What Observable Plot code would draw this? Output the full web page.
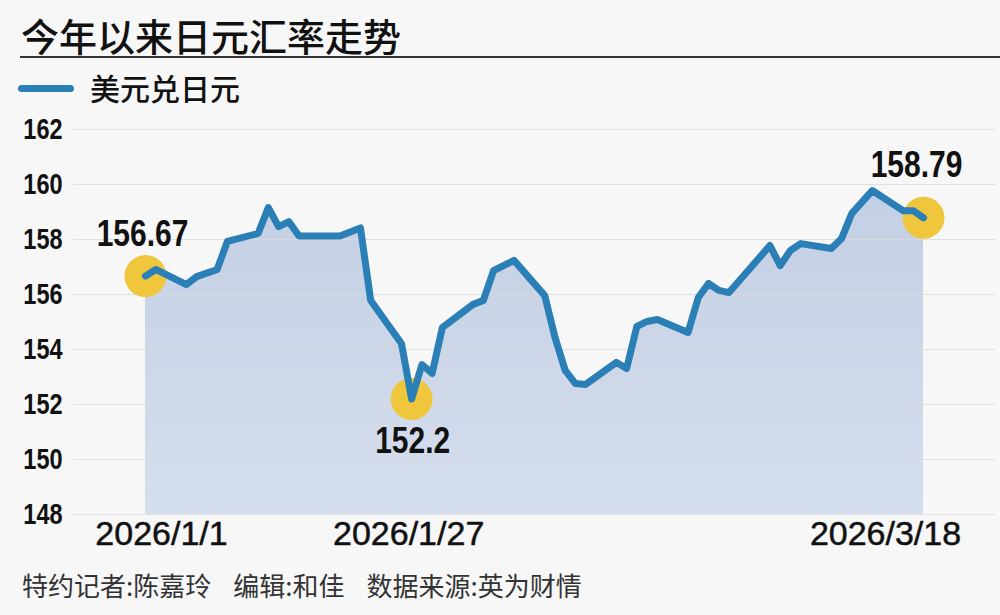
<!DOCTYPE html>
<html>
<head>
<meta charset="utf-8">
<script src="https://cdn.jsdelivr.net/npm/d3@7"></script>
<script src="https://cdn.jsdelivr.net/npm/@observablehq/plot@0.6"></script>
<style>
  html, body { margin: 0; padding: 0; }
  body { width: 1000px; height: 615px; overflow: hidden; position: relative; background: #f7f7f7;
         font-family: "Noto Sans CJK SC", "Noto Sans", sans-serif; }
  #title { position: absolute; left: 21px; top: 16px; font-size: 38px; line-height: 1; font-weight: 500; color: #111; white-space: nowrap; }
  #rule { position: absolute; left: 20px; right: 0; top: 56px; height: 2px; background: #333; }
  #swatch { position: absolute; left: 18px; top: 85px; width: 56px; height: 7px; border-radius: 4px; background: #2a7fb6; }
  #legend { position: absolute; left: 90px; top: 72px; font-size: 30px; line-height: 1; font-weight: 500; color: #111; white-space: nowrap; }
  #chart { position: absolute; left: 0; top: 100px; }
  #footer { position: absolute; left: 22px; top: 572px; font-size: 26px; line-height: 1; color: #333; white-space: nowrap; }
  #footer span + span { margin-left: 22px; }
</style>
</head>
<body>
<div id="title">今年以来日元汇率走势</div>
<div id="rule"></div>
<div id="swatch"></div>
<div id="legend">美元兑日元</div>
<div id="chart"></div>
<div id="footer"><span>特约记者:陈嘉玲</span><span>编辑:和佳</span><span>数据来源:英为财情</span></div>
<script>
// ---- data ----
const dates = ["2026-01-01","2026-01-02","2026-01-05","2026-01-06","2026-01-08","2026-01-09","2026-01-12","2026-01-13","2026-01-14","2026-01-15","2026-01-16",
  "2026-01-20","2026-01-22","2026-01-23","2026-01-26","2026-01-27","2026-01-28","2026-01-29","2026-01-30",
  "2026-02-02","2026-02-03","2026-02-04","2026-02-06","2026-02-09","2026-02-10","2026-02-11","2026-02-12","2026-02-13",
  "2026-02-16","2026-02-17","2026-02-18","2026-02-19","2026-02-20","2026-02-23","2026-02-24","2026-02-25","2026-02-26","2026-02-27",
  "2026-03-03","2026-03-04","2026-03-05","2026-03-06","2026-03-09","2026-03-10","2026-03-11","2026-03-13","2026-03-16","2026-03-17","2026-03-18"];
const usdJpy = [156.67,156.91,156.36,156.65,156.91,157.93,158.22,159.16,158.47,158.65,158.13,
  158.13,158.42,155.78,154.22,152.2,153.45,153.13,154.8,
  155.64,155.78,156.87,157.24,155.96,154.44,153.24,152.76,152.73,
  153.53,153.31,154.84,155.02,155.09,154.62,155.89,156.4,156.15,156.07,
  157.78,157.05,157.6,157.85,157.67,158.04,158.95,159.78,159.05,159.05,158.79];
const yTicks = [148,150,152,154,156,158,160,162];
const xTickDates = ["2026-01-01","2026-01-27","2026-03-18"];
const xTickLabels = ["2026/1/1","2026/1/27","2026/3/18"];
const annDates = ["2026-01-01","2026-01-27","2026-03-18"];
const annValues = [156.67,152.2,158.79];
const annLabels = ["156.67","152.2","158.79"];

// ---- layout (offsets, styles) ----
const xTickDx = [16,-3,-38];
const annDx = [-3,1,-7];
const annDy = [-42,42,-53];
const boldFont = "'Liberation Sans', Arial, sans-serif";
const condense = 0.81;

const parse = s => new Date(s + "T00:00:00Z");
const data = dates.map((d,i) => ({date: parse(d), value: usdJpy[i]}));
const ann = annDates.map((d,i) => ({date: parse(d), value: annValues[i], label: annLabels[i]}));

const gradient = () => {
  const defs = d3.create("svg:defs");
  const g = defs.append("linearGradient").attr("id","areaGrad").attr("x1",0).attr("y1",0).attr("x2",0).attr("y2",1);
  g.append("stop").attr("offset","0%").attr("stop-color","#c3cfe4");
  g.append("stop").attr("offset","100%").attr("stop-color","#d5deec");
  return defs.node();
};

const marks = [
  gradient,
  Plot.areaY(data, {x: "date", y1: yTicks[0], y2: "value", fill: "url(#areaGrad)"}),
  Plot.ruleY(yTicks, {stroke: "#d9d9d9", strokeOpacity: 0.8, strokeWidth: 1.2, insetLeft: -72, insetRight: -72}),
  Plot.axisY(yTicks, {tickSize: 0, tickPadding: 83, fontSize: 29, fontWeight: "bold", fontFamily: boldFont, fill: "#111", label: null, className: "narrow"}),
  Plot.dot(ann, {x: "date", y: "value", r: 21, fill: "#f0c63c", stroke: "none"}),
  Plot.lineY(data, {x: "date", y: "value", stroke: "#2a7fb6", strokeWidth: 7, strokeLinejoin: "round", strokeLinecap: "round"})
];
ann.forEach((a,i) => {
  marks.push(Plot.text([a], {x: "date", y: "value", text: "label", dx: annDx[i], dy: annDy[i],
    fontSize: 37, fontWeight: "bold", fontFamily: boldFont, fill: "#111", className: "narrow"}));
});
xTickDates.forEach((d,i) => {
  marks.push(Plot.text([parse(d)], {x: v => v, frameAnchor: "bottom", text: () => xTickLabels[i], dx: xTickDx[i], dy: 30,
    fontSize: 34, fontFamily: "'Liberation Sans', Arial, sans-serif", fill: "#111", stroke: "#111", strokeWidth: 0.5}));
});

const chart = Plot.plot({
  width: 1000, height: 470,
  marginLeft: 145, marginRight: 77, marginTop: 29, marginBottom: 56,
  style: {background: "transparent", overflow: "visible"},
  x: {type: "utc", domain: [data[0].date, data[data.length-1].date], axis: null},
  y: {domain: [yTicks[0], yTicks[yTicks.length-1]], axis: null},
  marks
});
document.getElementById("chart").appendChild(chart);

// condense the bold numeric labels (narrow-bold look)
chart.querySelectorAll("g.narrow text").forEach(t => {
  const w = t.getComputedTextLength();
  t.setAttribute("textLength", (w * condense).toFixed(1));
  t.setAttribute("lengthAdjust", "spacingAndGlyphs");
});
</script>
</body>
</html>
